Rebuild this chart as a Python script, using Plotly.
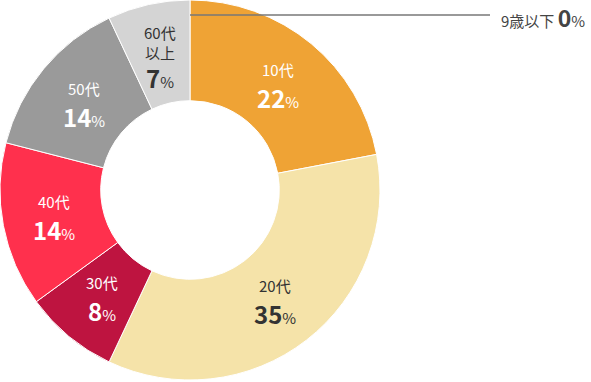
import math
import plotly.graph_objects as go

categories = ["9歳以下", "10代", "20代", "30代", "40代", "50代", "60代以上"]
label_lines = [["9歳以下"], ["10代"], ["20代"], ["30代"], ["40代"], ["50代"], ["60代", "以上"]]
values = [0, 22, 35, 8, 14, 14, 7]
colors = ["#F08C2E", "#EFA335", "#F5E3A9", "#BE1440", "#FF304D", "#9A9A9A", "#D4D4D4"]
text_colors = ["#444444", "#FFFFFF", "#333333", "#FFFFFF", "#FFFFFF", "#FFFFFF", "#333333"]

FONT = "Noto Sans CJK JP"
W, H = 591, 382
PH = 380  # paper height (bottom margin 2)
CX, CY, R_OUT, HOLE = 190, 190, 190, 0.47
R_LABEL = 138

pie_idx = [i for i, v in enumerate(values) if v > 0]
zero_idx = [i for i, v in enumerate(values) if v == 0]

fig = go.Figure(go.Pie(
    labels=[categories[i] for i in pie_idx],
    values=[values[i] for i in pie_idx],
    textinfo="none",
    hole=HOLE,
    sort=False,
    direction="clockwise",
    rotation=0,
    marker=dict(colors=[colors[i] for i in pie_idx], line=dict(color="white", width=1)),
    domain=dict(x=[0, 380 / W], y=[0, 1]),
    showlegend=False,
    hoverinfo="label+percent",
))


def px(x):
    return x / W


def py(y):
    return 1 - y / PH


total = sum(values)
cum = 0
for i in range(len(values)):
    v = values[i]
    if v == 0:
        continue
    ang = math.radians((cum + v / 2) / total * 360)
    cum += v
    x = CX + R_LABEL * math.sin(ang)
    y = CY - R_LABEL * math.cos(ang)
    lines = label_lines[i]
    if len(lines) == 1:
        offs = [-14]
        pct_off = 14
    else:
        offs = [-23, -3]
        pct_off = 22
    for k, ln in enumerate(lines):
        fig.add_annotation(xref="paper", yref="paper", x=px(x), y=py(y + offs[k]),
                           xanchor="center", yanchor="middle", showarrow=False,
                           text=ln, font=dict(family=FONT, size=15, color=text_colors[i]))
    fig.add_annotation(xref="paper", yref="paper", x=px(x), y=py(y + pct_off),
                       xanchor="center", yanchor="middle", showarrow=False,
                       text=f"<b><span style='font-size:24px'>{v}</span></b>%",
                       font=dict(family=FONT, size=15, color=text_colors[i]))

for i in zero_idx:
    fig.add_shape(type="line", xref="paper", yref="paper",
                  x0=px(190), x1=px(490), y0=py(15), y1=py(15),
                  line=dict(color="#777777", width=1.5))
    fig.add_annotation(xref="paper", yref="paper", x=px(499), y=py(17),
                       xanchor="left", yanchor="middle", showarrow=False,
                       text=f"{categories[i]} <b><span style='font-size:23px'>{values[i]}</span></b>%",
                       font=dict(family=FONT, size=15, color=text_colors[i]))

fig.update_layout(
    width=W, height=H,
    margin=dict(l=0, r=0, t=0, b=H - PH),
    paper_bgcolor="white", plot_bgcolor="white",
    font=dict(family=FONT),
)

fig.write_html("out.html", config={"displayModeBar": False},
               post_script="document.body.style.margin='0';")
